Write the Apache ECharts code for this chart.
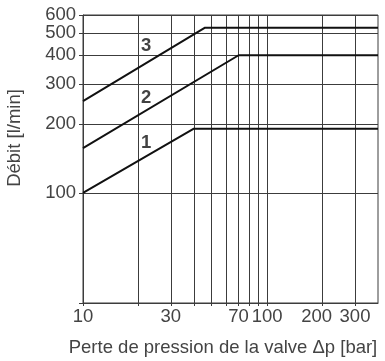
<!DOCTYPE html>
<html>
<head>
<meta charset="utf-8">
<script src="https://cdn.jsdelivr.net/npm/echarts@6/dist/echarts.min.js"></script>
<style>html,body{margin:0;padding:0;background:#fff}#c{width:385px;height:361px}</style>
</head>
<body>
<div id="c"></div>
<script>
// Data
var curve1 = [[10, 100], [40, 191], [400, 191]];
var curve2 = [[10, 157], [70, 400], [400, 400]];
var curve3 = [[10, 252], [46, 528], [400, 528]];
var curveNames = ['1', '2', '3'];
var curveLabelX = [22, 22, 22];
var curveLabelY = [166, 260, 440];
var xGridValues = [10, 20, 30, 40, 50, 60, 70, 80, 90, 100, 200, 300];
var xLabelValues = [10, 30, 70, 100, 200, 300];
var yGridValues = [100, 200, 300, 400, 500, 600];
var yLabelValues = [100, 200, 300, 400, 500];
var yTopLabelValues = [600];
var xMin = 10, xMax = 400, yMin = 33, yMax = 600;

var FONT = 'Liberation Sans';
var TXT = '#444';
var GRID = '#3c3c3c';

var labelData = curveNames.map(function (n, i) { return { value: [curveLabelX[i], curveLabelY[i]], name: n }; });

function lineSeries(d) {
  return { type: 'line', data: d, symbol: 'none', silent: true, lineStyle: { color: '#111', width: 2 }, z: 5 };
}

var yLabelStyle = { interval: 0, showMaxLabel: true, showMinLabel: true, color: TXT, fontFamily: FONT, fontSize: 18.5, margin: 7 };

var chart = echarts.init(document.getElementById('c'), null, { renderer: 'canvas' });
chart.setOption({
  animation: false,
  backgroundColor: '#fff',
  grid: { left: 83, right: 7, top: 15, bottom: 58, show: true, borderColor: GRID, borderWidth: 1, backgroundColor: 'transparent' },
  xAxis: {
    type: 'log', logBase: 10, min: xMin, max: xMax,
    axisLine: { show: true, lineStyle: { color: GRID, width: 1 } },
    axisTick: { show: true, length: 3, customValues: xGridValues, lineStyle: { color: GRID } },
    axisLabel: {
      customValues: xLabelValues, color: TXT, fontFamily: FONT, fontSize: 18.5, margin: 4,
      formatter: function (v) { return v === 200 ? '{s|200}' : String(v); },
      rich: { s: { color: TXT, fontFamily: FONT, fontSize: 18.5, padding: [0, 12, 0, 0] } }
    },
    splitLine: { show: true, lineStyle: { color: GRID, width: 1 } },
    minorTick: { show: false }, minorSplitLine: { show: false }
  },
  yAxis: [{
    type: 'log', logBase: 10, min: yMin, max: yMax, position: 'left',
    axisLine: { show: true, lineStyle: { color: GRID, width: 1 } },
    axisTick: { show: true, length: 4, customValues: [yMin].concat(yGridValues), lineStyle: { color: GRID } },
    axisLabel: Object.assign({ customValues: yLabelValues }, yLabelStyle),
    splitLine: { show: true, lineStyle: { color: GRID, width: 1 } },
    minorTick: { show: false }, minorSplitLine: { show: false }
  }, {
    type: 'log', logBase: 10, min: yMin, max: yMax, position: 'left', offset: 0,
    axisLine: { show: false }, axisTick: { show: false }, splitLine: { show: false },
    axisLabel: Object.assign({ customValues: yTopLabelValues }, yLabelStyle),
    minorTick: { show: false }, minorSplitLine: { show: false }
  }],
  graphic: [
    { type: 'text', style: { text: 'Débit [l/min]', fontFamily: FONT, fontSize: 18.5, fill: TXT, align: 'center', verticalAlign: 'middle' }, x: 15, y: 138, rotation: Math.PI / 2 },
    { type: 'text', style: { text: 'Perte de pression de la valve Δp [bar]', fontFamily: FONT, fontSize: 18.5, fill: TXT, align: 'center', verticalAlign: 'middle' }, x: 223, y: 348 }
  ],
  series: [
    lineSeries(curve1), lineSeries(curve2), lineSeries(curve3),
    {
      type: 'scatter', data: labelData, symbolSize: 0, silent: true, z: 6,
      label: { show: true, position: 'inside', formatter: '{b}', fontFamily: FONT, fontWeight: 'bold', fontSize: 18.5, color: '#111' }
    }
  ]
});
</script>
</body>
</html>
